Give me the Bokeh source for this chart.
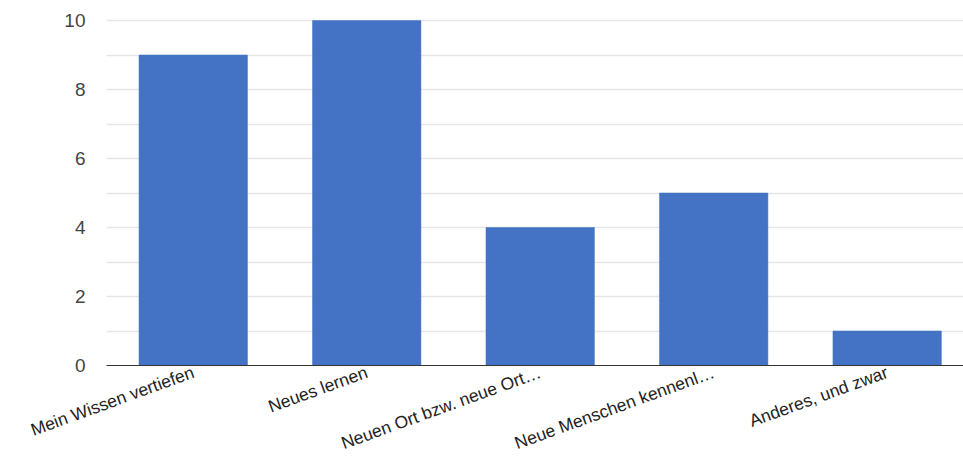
import math
from bokeh.plotting import figure
from bokeh.models import Range1d, FixedTicker, SingleIntervalTicker, ColumnDataSource
from bokeh.embed import file_html
from bokeh.resources import INLINE

categories = ["Mein Wissen vertiefen", "Neues lernen", "Neuen Ort bzw. neue Ort…",
              "Neue Menschen kennenl…", "Anderes, und zwar"]
values = [9, 10, 4, 5, 1]
y_ticks = [0, 2, 4, 6, 8, 10]

xs = list(range(len(categories)))
src = ColumnDataSource(dict(x=xs, top=values))

p = figure(width=963, height=466, output_backend="svg", toolbar_location=None,
           x_range=Range1d(-0.5, 4.44), y_range=Range1d(0, 10.06),
           min_border_left=106, min_border_right=0, min_border_top=18, min_border_bottom=101)
p.outline_line_color = None
p.background_fill_color = "white"
p.border_fill_color = "white"

p.vbar(x="x", top="top", width=0.625, bottom=0, source=src,
       fill_color="#4472C4", line_color="#4472C4", line_alpha=0.5)

FONT = "Liberation Sans"

# y axis
p.yaxis.ticker = FixedTicker(ticks=y_ticks)
p.yaxis.axis_line_color = None
p.yaxis.major_tick_line_color = None
p.yaxis.major_tick_out = 0
p.yaxis.major_tick_in = 0
p.yaxis.minor_tick_line_color = None
p.yaxis.major_label_standoff = 21
p.yaxis.major_label_text_font = FONT
p.yaxis.major_label_text_font_size = "19px"
p.yaxis.major_label_text_color = "#444444"

# x axis
p.xaxis.ticker = FixedTicker(ticks=xs)
p.xaxis.major_label_overrides = {i: c for i, c in zip(xs, categories)}
p.xaxis.major_label_orientation = math.radians(20)
p.xaxis.axis_line_color = "#333333"
p.xaxis.axis_line_width = 1
p.xaxis.major_tick_line_color = None
p.xaxis.major_tick_out = 0
p.xaxis.major_tick_in = 0
p.xaxis.minor_tick_line_color = None
p.xaxis.major_label_standoff = 6
p.xaxis.major_label_text_font = FONT
p.xaxis.major_label_text_font_size = "17.5px"
p.xaxis.major_label_text_color = "#222222"

p.xgrid.grid_line_color = None
p.ygrid.ticker = SingleIntervalTicker(interval=1)
p.ygrid.grid_line_color = "#e6e6e6"
p.ygrid.grid_line_width = 1.5

open("out.html", "w").write(file_html(p, INLINE))
